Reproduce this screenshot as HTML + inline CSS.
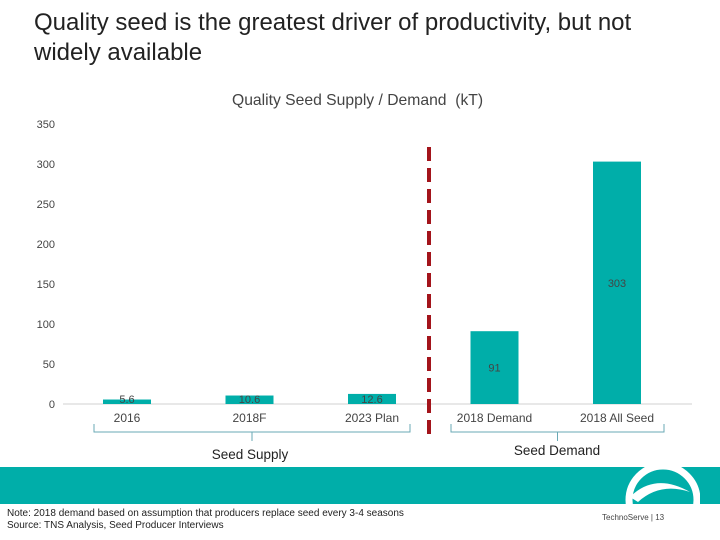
<!DOCTYPE html>
<html><head><meta charset="utf-8"><style>
body{margin:0;width:720px;height:540px;overflow:hidden;background:#fff;font-family:"Liberation Sans",sans-serif;position:relative}
.t{position:absolute;white-space:nowrap}
</style></head><body>
<div class="t" style="left:34px;top:8px;font-size:24px;line-height:30px;color:#222">Quality seed is the greatest driver of productivity, but not<br>widely available</div>
<div class="t" style="left:232px;top:92px;font-size:15.7px;color:#444">Quality Seed Supply / Demand&nbsp; (kT)</div>
<svg id="chart" width="720" height="540" style="position:absolute;left:0;top:0"></svg>
<div style="position:absolute;left:0;top:467px;width:720px;height:37px;background:#00AEA9"></div>
<svg width="100" height="60" style="position:absolute;left:600px;top:462px">
<circle cx="63" cy="38" r="34" fill="none" stroke="#fff" stroke-width="7"/>
<path d="M30 35 Q55 10 90 30 Q60 20 38 40 Z" fill="#fff"/>
</svg>
<div class="t" style="left:7px;top:508px;font-size:10px;line-height:12px;color:#222">Note: 2018 demand based on assumption that producers replace seed every 3-4 seasons<br>Source: TNS Analysis, Seed Producer Interviews</div>
<div class="t" style="left:602px;top:513px;font-size:8px;color:#444">TechnoServe | 13</div>
<script>
const categories=["2016","2018F","2023 Plan","2018 Demand","2018 All Seed"];
const values=[5.6,10.6,12.6,91,303];
const labels=["5.6","10.6","12.6","91","303"];
const ticks=[0,50,100,150,200,250,300,350];
const NS="http://www.w3.org/2000/svg";
const svg=document.getElementById("chart");
const y0=404,pxPer=0.8;
function y(v){return y0-v*pxPer;}
function x(i){return 127+i*122.5;}
function el(t,a){const e=document.createElementNS(NS,t);for(const k in a)e.setAttribute(k,a[k]);svg.appendChild(e);return e;}
ticks.forEach(t=>{const e=el("text",{x:55,y:y(t)+4,"text-anchor":"end","font-size":"11","fill":"#444"});e.textContent=t;

});
const ax=el("line",{x1:63,x2:692,y1:y0,y2:y0,stroke:"#d0d0d0","stroke-width":1});


categories.forEach((c,i)=>{
const r=el("rect",{x:x(i)-24,y:y(values[i]),width:48,height:y0-y(values[i]),fill:"#00AEA9"});


const lv=values[i]<20?y0-1:(y(values[i])+y0)/2+4;
const l=el("text",{x:x(i),y:lv,"text-anchor":"middle","font-size":"11","fill":"#444"});l.textContent=labels[i];


const cl=el("text",{x:x(i),y:422,"text-anchor":"middle","font-size":"12","fill":"#444"});cl.textContent=c;


});
const d=el("line",{x1:429,x2:429,y1:147,y2:440,stroke:"#A3141B","stroke-width":4,"stroke-dasharray":"14,7"});


function brace(a,b,name){const m=(a+b)/2;const p=el("path",{d:`M${a} 424 V432 H${b} V424 M${m} 432 V441`,fill:"none",stroke:"#6aa9b5","stroke-width":1});

}
brace(94,410,'supply-brace');brace(451,664,'demand-brace');
const g1=el("text",{x:250,y:459,"text-anchor":"middle","font-size":"13.5","fill":"#222"});g1.textContent="Seed Supply";


const g2=el("text",{x:557,y:455,"text-anchor":"middle","font-size":"13.5","fill":"#222"});g2.textContent="Seed Demand";


</script>
</body></html>
